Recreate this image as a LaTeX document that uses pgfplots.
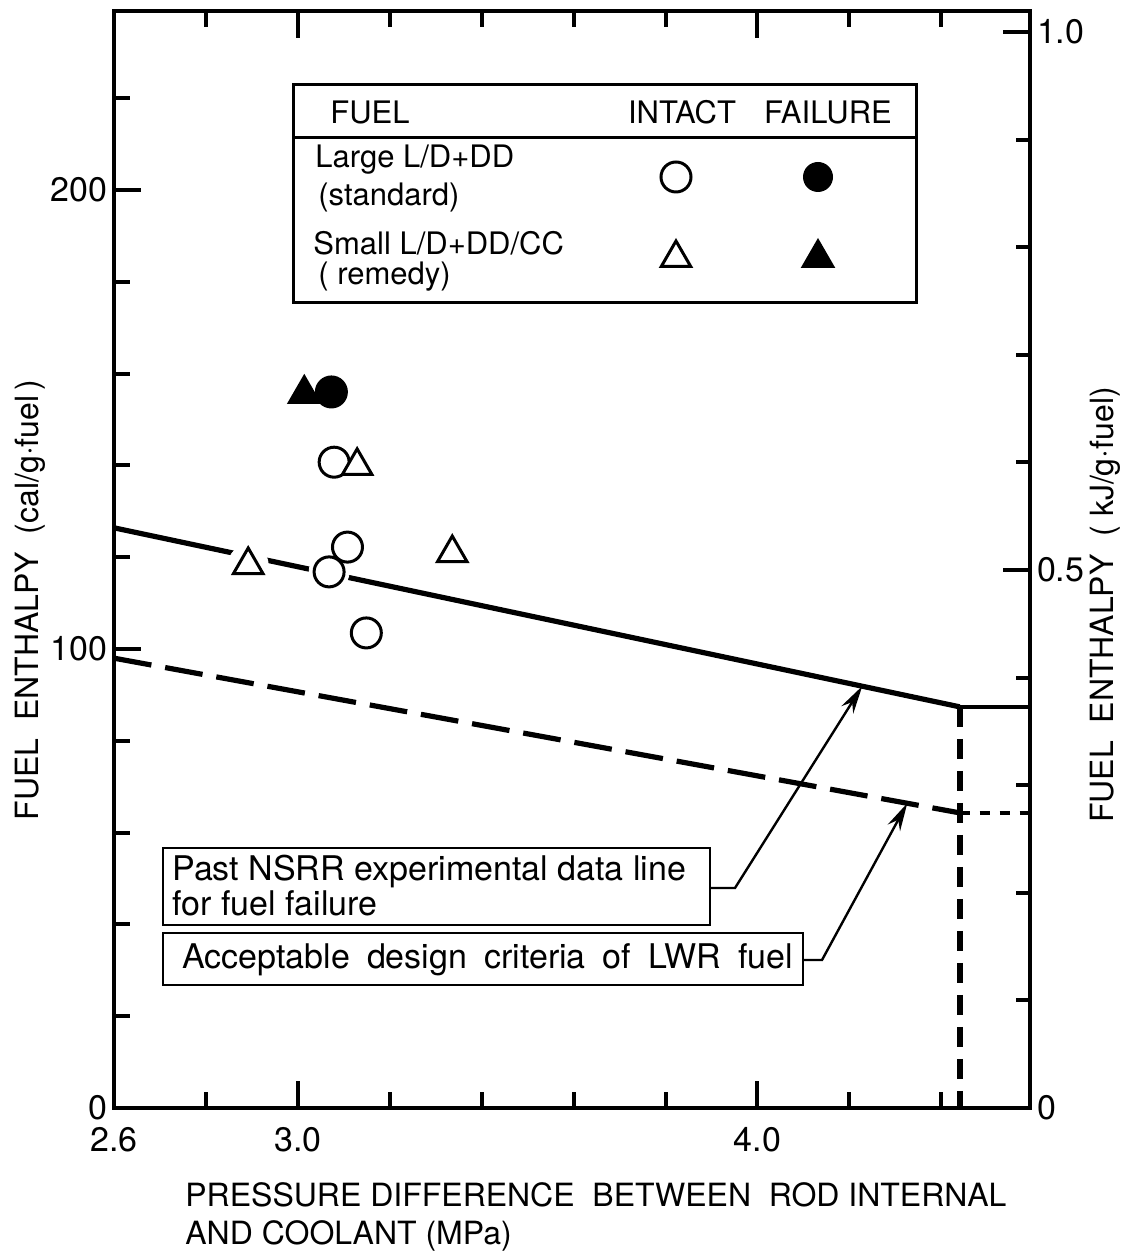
\documentclass[border=0pt]{standalone}
\usepackage{fontspec}
\setmainfont{TeX Gyre Heros}
\usepackage{pgfplots}
\usepackage{pgfplotstable}
\pgfplotsset{compat=1.18}
\usetikzlibrary{arrows.meta,calc}

\pgfplotstableread{
x y
3.079 140.7
3.108 122.2
3.068 116.8
3.149 103.5
}\intactcircle
\pgfplotstableread{
x y
3.073 156.0
}\failcircle
\pgfplotstableread{
x y
3.129 139.9
2.892 118.3
3.336 120.9
}\intacttri
\pgfplotstableread{
x y
3.014 155.6
}\failtri

\newcommand\legfont{\fontsize{15.5}{18}\selectfont}
\newcommand\annfont{\fontsize{17}{20}\selectfont}
\newcommand\labfont{\fontsize{16}{20}\selectfont}

\begin{document}
\begin{tikzpicture}
\begin{axis}[
  name=main,
  scale only axis, width=458pt, height=548.5pt,
  xmin=2.6, xmax=4.593, ymin=0, ymax=239,
  axis line style={line width=2pt},
  every tick/.style={line width=2pt, black},
  tick align=inside,
  xtick={2.6,3.0,4.0}, xticklabels={2.6,3.0,4.0},
  minor xtick={2.8,3.2,3.4,3.6,3.8,4.2,4.4},
  xtick pos=both, xticklabel pos=lower,
  ytick={0,100,200}, yticklabels={0,100,200},
  minor ytick={20,40,60,80,120,140,160,180,220},
  ytick pos=left,
  major tick length=13.5pt, minor tick length=8pt,
  tick label style={font=\fontsize{17}{17}\selectfont},
  xticklabel style={yshift=-6pt},
  /pgf/number format/assume math mode=true,
  clip=false,
]
% fuel failure line (past NSRR data)
\addplot[black, line width=2.6pt] coordinates {(2.6,126.4) (4.44,87.4)};
\addplot[black, line width=2pt] coordinates {(4.44,87.4) (4.593,87.4)};
% acceptable design criteria
\addplot[black, line width=2.6pt, dash pattern=on 19pt off 7pt] coordinates {(2.6,98.0) (4.44,64.3)};
\addplot[black, line width=2pt, dash pattern=on 5pt off 5pt] coordinates {(4.44,64.3) (4.593,64.3)};
% vertical limit
\addplot[black, line width=3pt, dash pattern=on 10pt off 6pt] coordinates {(4.44,87.4) (4.44,0)};
% halos
\addplot[only marks, mark=*, mark size=10pt, mark options={draw=white, fill=white}] table[x=x,y=y] {\intactcircle};
\addplot[only marks, mark=*, mark size=10pt, mark options={draw=white, fill=white}] table[x=x,y=y] {\intacttri};
% data
\addplot[only marks, mark=*, mark size=7.5pt, mark options={draw=black, fill=white, line width=1.5pt}] table[x=x,y=y] {\intactcircle};
\addplot[only marks, mark=triangle*, mark size=8.5pt, mark options={draw=black, fill=white, line width=1.5pt}] table[x=x,y=y] {\intacttri};
\addplot[only marks, mark=triangle*, mark size=8.5pt, mark options={draw=black, fill=black, line width=1.5pt}] table[x=x,y=y] {\failtri};
\addplot[only marks, mark=*, mark size=7.5pt, mark options={draw=black, fill=black, line width=1.5pt}] table[x=x,y=y] {\failcircle};
\coordinate (tip1) at (axis cs:4.228,91.9);
\coordinate (tip2) at (axis cs:4.326,66.4);
\coordinate (P) at (rel axis cs:0,1);
\end{axis}
\begin{axis}[
  scale only axis, width=458pt, height=548.5pt,
  xmin=2.6, xmax=4.593, ymin=0, ymax=1.0195,
  hide x axis,
  axis y line*=right,
  y axis line style={-, line width=2pt},
  every tick/.style={line width=2pt, black},
  tick align=inside,
  ytick={0,0.5,1.0}, yticklabels={0,0.5,1.0},
  minor ytick={0.1,0.2,0.3,0.4,0.6,0.7,0.8,0.9},
  ytick pos=right, yticklabel pos=right,
  major tick length=13.5pt, minor tick length=7pt,
  tick label style={font=\fontsize{17}{17}\selectfont},
  /pgf/number format/assume math mode=true,
]
\addplot[draw=none] coordinates {(3,0.5)};
\end{axis}
\begin{scope}[shift={($(P)+(-57pt,5.5pt)$)}, x=0.5pt, y=-0.5pt]
  % legend box
  \draw[line width=1.5pt] (293,85) rectangle (916,303);
  \draw[line width=1.5pt] (293,138) -- (916,138);
  \node[anchor=west, inner sep=0, font=\legfont] at (330,112) {FUEL};
  \node[inner sep=0, font=\legfont] at (682,112) {INTACT};
  \node[inner sep=0, font=\legfont] at (828,112) {FAILURE};
  \node[anchor=west, inner sep=0, font=\legfont] at (315,160) {Large L/D+DD};
  \node[anchor=west, inner sep=0, font=\legfont] at (318,197) {(standard)};
  \node[anchor=west, inner sep=0, font=\legfont] at (313,243) {Small L/D+DD/CC};
  \node[anchor=west, inner sep=0, font=\legfont] at (318,277) {( remedy)};
  \draw[line width=1.5pt, fill=white] (676,177) circle (7.5pt);
  \fill[black] (818,177) circle (7.5pt);
  \draw[line width=1.5pt, line join=miter] ($(676,258)+(90:8.5pt)$) -- ($(676,258)+(210:8.5pt)$) -- ($(676,258)+(330:8.5pt)$) -- cycle;
  \filldraw[line width=1.5pt, line join=miter] ($(818,258)+(90:8.5pt)$) -- ($(818,258)+(210:8.5pt)$) -- ($(818,258)+(330:8.5pt)$) -- cycle;
  % annotation boxes
  \draw[line width=1.3pt] (163,848) rectangle (710,925);
  \node[anchor=west, inner sep=0, font=\annfont] at (172,872) {Past NSRR experimental data line};
  \node[anchor=west, inner sep=0, font=\annfont] at (172,903) {for fuel failure};
  \draw[line width=1.3pt] (163,933) rectangle (803,985);
  \node[anchor=west, inner sep=0, font=\annfont] at (182,960) {\spaceskip=8.5pt plus 1pt Acceptable design criteria of LWR fuel};
  \draw[line width=1.2pt, -{Stealth[length=14pt,width=7pt]}] (710,888) -- (735,888) -- (tip1);
  \draw[line width=1.2pt, -{Stealth[length=14pt,width=7pt]}] (803,960) -- (822,960) -- (tip2);
  % axis labels
  \node[rotate=90, inner sep=0, font=\labfont] at (30,600) {FUEL\ \ ENTHALPY\ \ (cal/g·fuel\,)};
  \node[rotate=90, inner sep=0, font=\labfont] at (1105,605) {FUEL\ \ ENTHALPY\ \ ( kJ/g·fuel)};
  \node[anchor=west, inner sep=0, font=\labfont] at (185,1195) {PRESSURE DIFFERENCE\ \ BETWEEN\ \ ROD INTERNAL};
  \node[anchor=west, inner sep=0, font=\labfont] at (185,1236) {AND COOLANT (MPa)};
  \pgfresetboundingbox
  \path[use as bounding box] (0,0) rectangle (1134,1259);
\end{scope}
\end{tikzpicture}
\end{document}
